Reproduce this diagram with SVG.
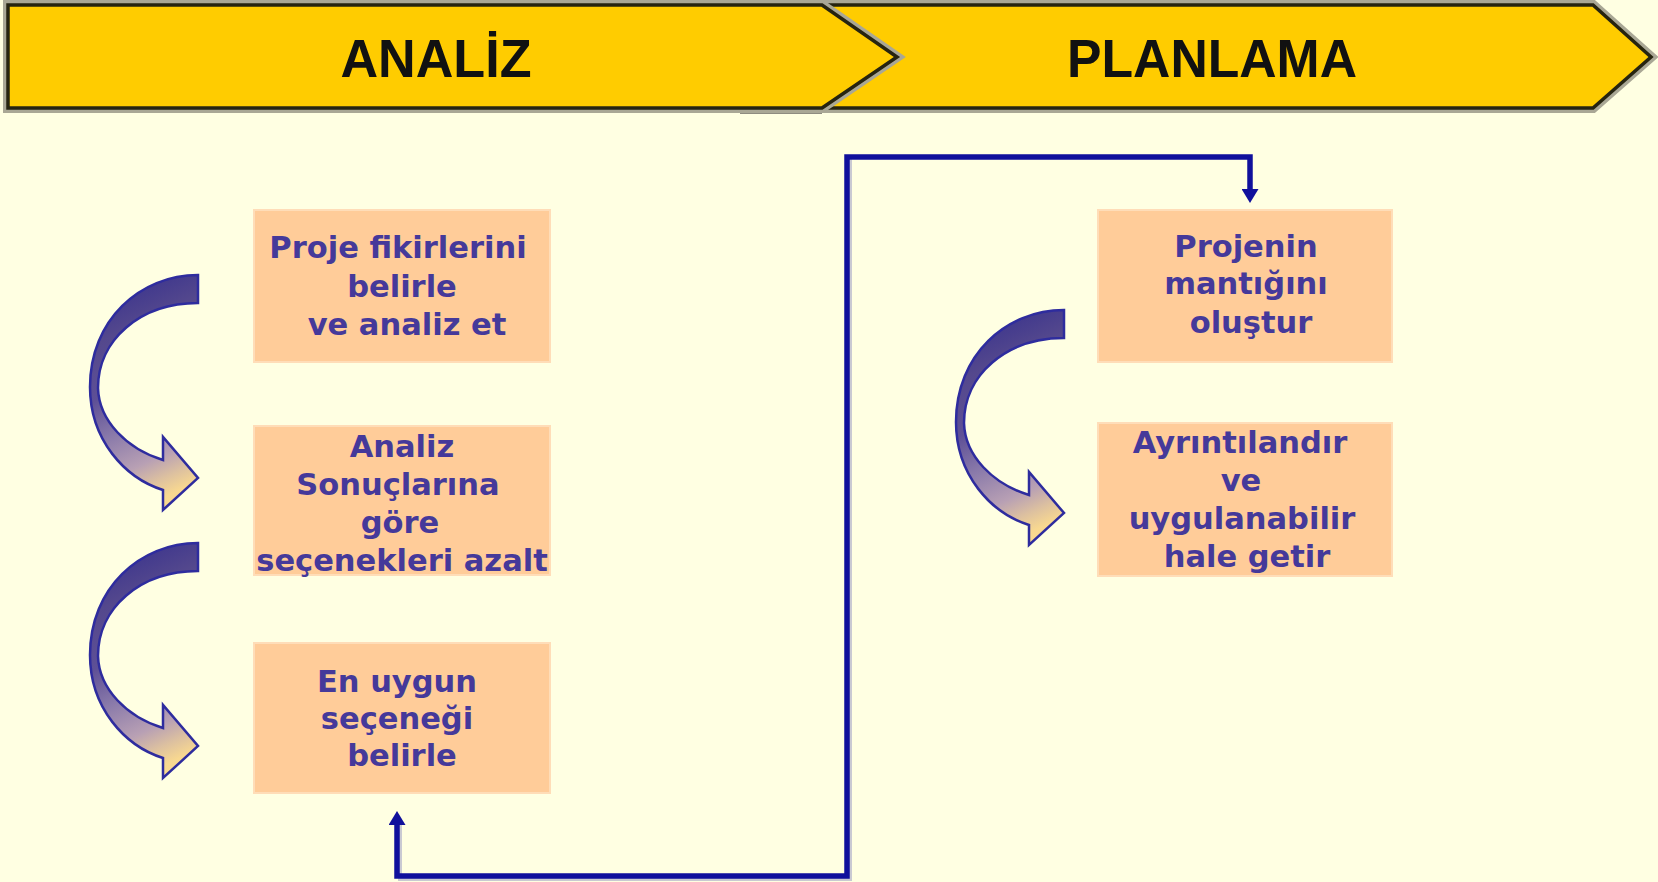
<svg xmlns="http://www.w3.org/2000/svg" xmlns:xlink="http://www.w3.org/1999/xlink" width="1658" height="882" viewBox="0 0 1658 882">
<style>
.bg{fill:#FFFFE2}
.phase{fill:#FFCC00;stroke:#262410;stroke-width:3.5;stroke-linejoin:miter}
.phaseShadow{fill:none;stroke:#a9a795;stroke-width:10;stroke-linejoin:miter}
.phaseText{font-family:"Liberation Sans",Arial,sans-serif;font-weight:bold;font-size:54px;fill:#111111;text-anchor:middle}
.box{fill:#FFCC99;stroke:#FFDDB8;stroke-width:2}
.lbl{font-family:"DejaVu Sans","Liberation Sans",sans-serif;font-weight:bold;font-size:30.5px;fill:#45399A;text-anchor:middle}
.conn{fill:none;stroke:#10109C;stroke-width:5.5;stroke-linejoin:miter}
.connShadow{fill:none;stroke:#c9c9d2;stroke-width:4}
.curve{stroke:#2E2C9E;stroke-width:2.5;stroke-linejoin:miter}
</style>
<defs>
<linearGradient id="curveGrad" gradientUnits="userSpaceOnUse" x1="90" y1="275" x2="198" y2="510">
<stop offset="0" stop-color="#2E2A8E"/>
<stop offset="0.25" stop-color="#54488D"/>
<stop offset="0.45" stop-color="#5E5096"/>
<stop offset="0.6" stop-color="#8A7AAA"/>
<stop offset="0.75" stop-color="#B8A0B4"/>
<stop offset="0.83" stop-color="#DCC0A0"/>
<stop offset="0.9" stop-color="#F8D890"/>
<stop offset="1" stop-color="#FCDC8A"/>
</linearGradient>
<path id="curvedArrow" class="curve" fill="url(#curveGrad)" d="M198,275 C140,275 90,320 90,387 C90,440 125,478 163,490 L163,510 L198,478 L163,437 L163,460 C127,449 99,421 98,388 C98,340 140,303 198,303 Z"/>
<marker id="arrowHead" markerUnits="userSpaceOnUse" viewBox="0 0 14 17" refX="2" refY="8.5" markerWidth="14" markerHeight="17" orient="auto-start-reverse">
<path d="M0,0 L14,8.5 L0,17 Z" fill="#10109C"/>
</marker>
</defs>
<rect class="bg" x="0" y="0" width="1658" height="882"/>

<g id="phase-planlama">
<polygon class="phaseShadow" points="822,5 1593,5 1651,57 1593,108 822,108 897,57"/>
<rect x="740" y="0" width="82" height="3" fill="#8e8c80"/>
<rect x="740" y="110" width="82" height="4" fill="#8e8c80"/>
<polygon class="phase" points="822,5 1593,5 1651,57 1593,108 822,108 897,57"/>
<text class="phaseText" x="1212" y="77" textLength="290" lengthAdjust="spacingAndGlyphs">PLANLAMA</text>
</g>

<g id="phase-analiz">
<polygon class="phaseShadow" points="8,5 822,5 897,57 822,108 8,108"/>
<polygon class="phase" points="8,5 822,5 897,57 822,108 8,108"/>
<text class="phaseText" x="436" y="77" textLength="191" lengthAdjust="spacingAndGlyphs">ANALİZ</text>
</g>

<g id="connectors">
<path class="connShadow" d="M400,822 V879 H850 V159"/>
<path class="conn" d="M397,823 V876 H847 V157 H1250 V191" marker-start="url(#arrowHead)" marker-end="url(#arrowHead)"/>
<use xlink:href="#curvedArrow" href="#curvedArrow"/>
<use xlink:href="#curvedArrow" href="#curvedArrow" transform="translate(0,268)"/>
<use xlink:href="#curvedArrow" href="#curvedArrow" transform="translate(866,35)"/>
</g>

<g id="box-proje-fikirleri">
<rect class="box" x="254" y="210" width="296" height="152"/>
<text class="lbl" x="398" y="258">Proje fikirlerini</text>
<text class="lbl" x="402" y="297">belirle</text>
<text class="lbl" x="407" y="335">ve analiz et</text>
</g>

<g id="box-analiz-sonuclari">
<rect class="box" x="254" y="426" width="296" height="149"/>
<text class="lbl" x="402" y="457">Analiz</text>
<text class="lbl" x="398" y="495">Sonuçlarına</text>
<text class="lbl" x="400" y="533">göre</text>
<text class="lbl" x="402" y="571">seçenekleri azalt</text>
</g>

<g id="box-en-uygun">
<rect class="box" x="254" y="643" width="296" height="150"/>
<text class="lbl" x="397" y="692">En uygun</text>
<text class="lbl" x="397" y="729">seçeneği</text>
<text class="lbl" x="402" y="766">belirle</text>
</g>

<g id="box-projenin-mantigi">
<rect class="box" x="1098" y="210" width="294" height="152"/>
<text class="lbl" x="1246" y="257">Projenin</text>
<text class="lbl" x="1246" y="294">mantığını</text>
<text class="lbl" x="1251" y="333">oluştur</text>
</g>

<g id="box-ayrintilandir">
<rect class="box" x="1098" y="423" width="294" height="153"/>
<text class="lbl" x="1240" y="453">Ayrıntılandır</text>
<text class="lbl" x="1241" y="491">ve</text>
<text class="lbl" x="1242" y="529">uygulanabilir</text>
<text class="lbl" x="1247" y="567">hale getir</text>
</g>
</svg>
